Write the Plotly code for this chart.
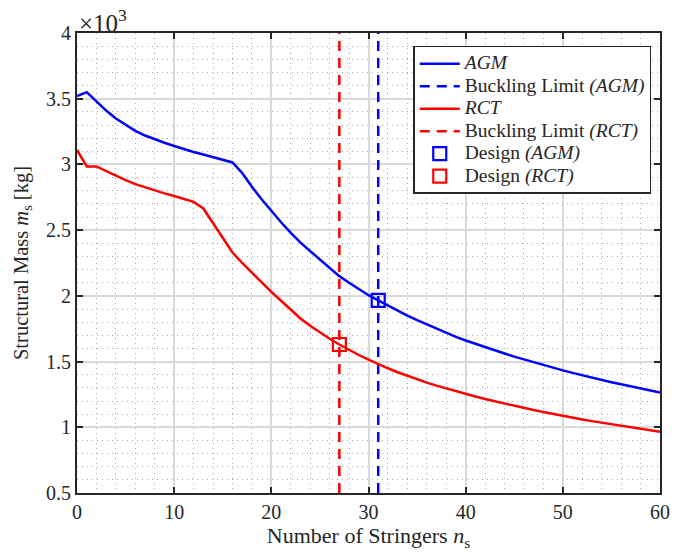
import plotly.graph_objects as go

n_stringers = list(range(0, 61))

mass_agm = [3.52, 3.55, 3.48, 3.41, 3.35, 3.30, 3.255, 3.22, 3.19, 3.165,
            3.14, 3.115, 3.095, 3.075, 3.055, 3.035, 3.015, 2.935, 2.83, 2.735,
            2.645, 2.56, 2.48, 2.405, 2.34, 2.275, 2.21, 2.15, 2.10, 2.05,
            2.005, 1.965, 1.925, 1.885, 1.85, 1.815, 1.782, 1.75, 1.718, 1.688,
            1.66, 1.634, 1.609, 1.585, 1.561, 1.538, 1.516, 1.494, 1.473, 1.453,
            1.433, 1.414, 1.395, 1.377, 1.36, 1.343, 1.327, 1.311, 1.295, 1.28,
            1.265]

mass_rct = [3.11, 2.985, 2.985, 2.95, 2.91, 2.88, 2.85, 2.825, 2.80, 2.78,
            2.76, 2.74, 2.715, 2.665, 2.55, 2.44, 2.33, 2.25, 2.175, 2.10,
            2.03, 1.963, 1.892, 1.828, 1.772, 1.72, 1.674, 1.63, 1.588, 1.55,
            1.514, 1.48, 1.449, 1.419, 1.391, 1.365, 1.34, 1.317, 1.295, 1.274,
            1.254, 1.234, 1.215, 1.197, 1.179, 1.162, 1.146, 1.131, 1.116, 1.101,
            1.087, 1.073, 1.06, 1.047, 1.035, 1.023, 1.011, 0.999, 0.988, 0.977,
            0.966]

buckling_agm = 31
buckling_rct = 27
design_agm = (31, 1.965)
design_rct = (27, 1.63)
y_range = [0.5, 4.0]
x_range = [0, 60]
x_ticks = [0, 10, 20, 30, 40, 50, 60]
y_ticks = [0.5, 1, 1.5, 2, 2.5, 3, 3.5, 4]
y_tick_labels = ["0.5", "1", "1.5", "2", "2.5", "3", "3.5", "4"]
legend_names = ["<i>AGM</i>", "Buckling Limit <i>(AGM)</i>",
                "<i>RCT</i>", "Buckling Limit <i>(RCT)</i>",
                "Design <i>(AGM)</i>", "Design <i>(RCT)</i>"]

BLUE = "#0000ff"
RED = "#ff0000"
INK = "#262626"
FONT = "Liberation Serif"


def big(label):
    return '<span style="font-size:19.5px">' + label + "</span>"


fig = go.Figure()
fig.add_trace(go.Scatter(x=n_stringers, y=mass_agm, mode="lines",
                         line=dict(color=BLUE, width=2.5), name=big(legend_names[0])))
fig.add_trace(go.Scatter(x=[buckling_agm, buckling_agm], y=y_range, mode="lines",
                         line=dict(color=BLUE, width=2.5, dash="10px,7px"),
                         name=big(legend_names[1])))
fig.add_trace(go.Scatter(x=n_stringers, y=mass_rct, mode="lines",
                         line=dict(color=RED, width=2.5), name=big(legend_names[2])))
fig.add_trace(go.Scatter(x=[buckling_rct, buckling_rct], y=y_range, mode="lines",
                         line=dict(color=RED, width=2.5, dash="10px,7px"),
                         name=big(legend_names[3])))
fig.add_trace(go.Scatter(x=[design_agm[0]], y=[design_agm[1]], mode="markers",
                         marker=dict(symbol="square-open", size=13, color=BLUE,
                                     line=dict(width=2.2, color=BLUE)),
                         name=big(legend_names[4])))
fig.add_trace(go.Scatter(x=[design_rct[0]], y=[design_rct[1]], mode="markers",
                         marker=dict(symbol="square-open", size=13, color=RED,
                                     line=dict(width=2.2, color=RED)),
                         name=big(legend_names[5])))

axis_common = dict(
    showline=True, linecolor=INK, linewidth=2, mirror="ticks",
    ticks="inside", ticklen=6, tickwidth=1.5, tickcolor=INK,
    showgrid=True, gridcolor="#d9d9d9", gridwidth=1.5, zeroline=False,
    tickfont=dict(family=FONT, size=20, color=INK),
)

fig.update_xaxes(range=x_range, tickvals=x_ticks,
                 title=dict(text="Number of Stringers <i>n</i><sub>s</sub>",
                            font=dict(family=FONT, size=22, color=INK),
                            standoff=2),
                 minor=dict(dtick=2, showgrid=True, gridcolor="#a8a8a8",
                            griddash="1px,4px", gridwidth=1),
                 **axis_common)
fig.update_yaxes(range=y_range, tickvals=y_ticks, ticktext=y_tick_labels,
                 title=dict(text="Structural Mass <i>m</i><sub>s</sub> [kg]",
                            font=dict(family=FONT, size=20.5, color=INK),
                            standoff=12),
                 minor=dict(dtick=0.1, showgrid=True, gridcolor="#a8a8a8",
                            griddash="1px,4px", gridwidth=1),
                 **axis_common)

fig.add_annotation(text="×10<sup>3</sup>", xref="paper", yref="paper",
                   x=0.0, y=1.0, xanchor="left", yanchor="bottom", showarrow=False,
                   font=dict(family=FONT, size=25, color=INK), yshift=-6)

fig.update_layout(
    width=692, height=552,
    margin=dict(l=77, r=32, t=33, b=57),
    plot_bgcolor="white", paper_bgcolor="white",
    font=dict(family=FONT, color=INK),
    legend=dict(x=0.985, y=0.972, xanchor="right", yanchor="top",
                bgcolor="white", bordercolor=INK, borderwidth=1.5,
                font=dict(family=FONT, size=15, color=INK),
                tracegroupgap=0, itemwidth=40),
    showlegend=True,
)

fig.write_html("out.html")
